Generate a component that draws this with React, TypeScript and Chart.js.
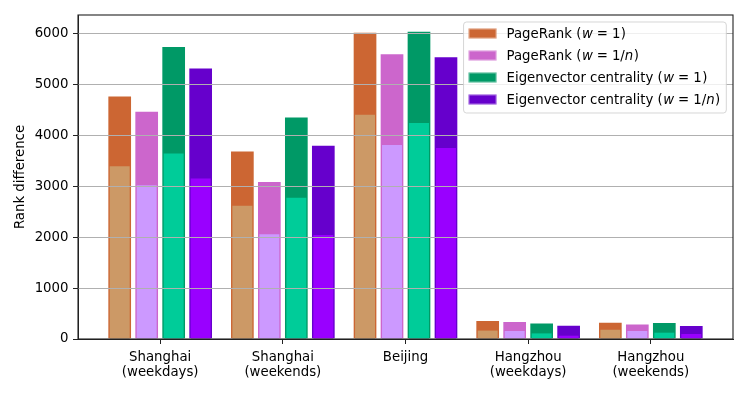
import React, { useEffect, useRef } from 'react';
import { Chart, registerables } from 'chart.js';

Chart.register(...registerables);

// ---- data ----
const categories: string[][] = [
  ['Shanghai', '(weekdays)'],
  ['Shanghai', '(weekends)'],
  ['Beijing'],
  ['Hangzhou', '(weekdays)'],
  ['Hangzhou', '(weekends)'],
];
const seriesLabels = [
  'PageRank ($w=1$)',
  'PageRank ($w=1/n$)',
  'Eigenvector centrality ($w=1$)',
  'Eigenvector centrality ($w=1/n$)',
];
// full bars (darker)
const pagerankW1 = [4780, 3700, 6030, 372, 339];
const pagerankW1n = [4480, 3100, 5610, 355, 306];
const eigenW1 = [5750, 4370, 6050, 325, 333];
const eigenW1n = [5330, 3815, 5550, 280, 274];
// inner bars (lighter)
const pagerankW1Inner = [3390, 2615, 4400, 165, 182];
const pagerankW1nInner = [3020, 2055, 3810, 157, 157];
const eigenW1Inner = [3640, 2775, 4240, 110, 124];
const eigenW1nInner = [3150, 2040, 3750, 65, 98];
const yTicks = [0, 1000, 2000, 3000, 4000, 5000, 6000];

const outerColors = ['#CC6633', '#CC66CC', '#009966', '#6600CC'];
const innerColors = ['#CC9966', '#CC99FF', '#00CC99', '#9900FF'];

const FONT = '"DejaVu Sans", "Liberation Sans", sans-serif';
const FS = 13.3;
const TEXT = '#000';

function drawMathLabel(ctx: CanvasRenderingContext2D, text: string, x: number, y: number, measureOnly = false): number {
  const parts = text.split('$');
  let cx = x;
  parts.forEach((p, idx) => {
    const math = idx % 2 === 1;
    if (!math) {
      ctx.font = `${FS}px ${FONT}`;
      if (!measureOnly) ctx.fillText(p, cx, y);
      cx += ctx.measureText(p).width;
    } else {
      cx += 0.5;
      for (const ch of p) {
        if (ch === '=') {
          ctx.font = `${FS}px ${FONT}`;
          cx += 4;
          if (!measureOnly) ctx.fillText('=', cx, y);
          cx += ctx.measureText('=').width + 4;
        } else if (/[a-z]/i.test(ch)) {
          ctx.font = `italic ${FS}px ${FONT}`;
          if (!measureOnly) ctx.fillText(ch, cx, y);
          cx += ctx.measureText(ch).width;
        } else {
          ctx.font = `${FS}px ${FONT}`;
          if (!measureOnly) ctx.fillText(ch, cx, y);
          cx += ctx.measureText(ch).width;
        }
      }
      cx += 0.5;
    }
  });
  return cx - x;
}

const overlayPlugin = {
  id: 'overlayPlugin',
  afterDatasetsDraw(chart: any) {
    const { ctx, chartArea: ca, scales } = chart;
    const y = scales.y;
    ctx.save();
    // grid over bars
    ctx.strokeStyle = '#b0b0b0';
    ctx.lineWidth = 1.1;
    yTicks.forEach((v) => {
      if (v === 0) return;
      const py = Math.round(y.getPixelForValue(v)) + 0.5;
      ctx.beginPath();
      ctx.moveTo(ca.left, py);
      ctx.lineTo(ca.right, py);
      ctx.stroke();
    });

    // legend
    let maxW = 0;
    seriesLabels.forEach((l) => {
      maxW = Math.max(maxW, drawMathLabel(ctx, l, 0, 0, true));
    });
    const boxW = 43 + maxW + 6;
    const boxH = 91;
    const bx = ca.right - 6.7 - boxW;
    const by = ca.top + 7;
    ctx.beginPath();
    (ctx as any).roundRect(bx, by, boxW, boxH, 3);
    ctx.fillStyle = 'rgba(255,255,255,0.8)';
    ctx.fill();
    ctx.strokeStyle = 'rgba(204,204,204,0.8)';
    ctx.lineWidth = 1;
    ctx.stroke();
    seriesLabels.forEach((l, i) => {
      const cy = by + 11.5 + i * 22;
      ctx.fillStyle = outerColors[i];
      ctx.fillRect(bx + 5, cy - 5, 28, 10);
      ctx.strokeStyle = 'rgba(255,255,255,0.45)';
      ctx.lineWidth = 1;
      ctx.strokeRect(bx + 5.5, cy - 4.5, 27, 9);
      ctx.fillStyle = TEXT;
      ctx.textBaseline = 'middle';
      ctx.textAlign = 'left';
      drawMathLabel(ctx, l, bx + 43, cy + 1);
    });

    // axes frame
    ctx.strokeStyle = '#222';
    ctx.lineWidth = 1.1;
    ctx.strokeRect(ca.left, ca.top, ca.right - ca.left, ca.bottom - ca.top);
    ctx.restore();
  },
};

export default function App() {
  const canvasRef = useRef<HTMLCanvasElement | null>(null);

  useEffect(() => {
    if (!canvasRef.current) return;
    const outer = [pagerankW1, pagerankW1n, eigenW1, eigenW1n];
    const inner = [pagerankW1Inner, pagerankW1nInner, eigenW1Inner, eigenW1nInner];
    const datasets: any[] = [];
    outer.forEach((arr, i) => {
      datasets.push({
        label: seriesLabels[i],
        data: arr.map((v, k) => ({ x: k, y: v })),
        stack: 'g' + i,
        backgroundColor: outerColors[i],
        borderColor: 'rgba(255,255,255,0.45)',
        borderWidth: 1,
        barPercentage: 0.915,
        categoryPercentage: 0.88,
        order: 1,
      });
    });
    inner.forEach((arr, i) => {
      datasets.push({
        label: seriesLabels[i] + ' inner',
        data: arr.map((v, k) => ({ x: k, y: v })),
        stack: 'g' + i,
        backgroundColor: innerColors[i],
        borderWidth: 0,
        barPercentage: 0.74,
        categoryPercentage: 0.88,
        order: 0,
      });
    });

    const chart = new Chart(canvasRef.current, {
      type: 'bar',
      data: { datasets },
      options: {
        animation: false,
        responsive: false,
        devicePixelRatio: 1,
        layout: { padding: { top: 15, right: 15, left: 0, bottom: 0 } },
        plugins: { legend: { display: false }, tooltip: { enabled: false } },
        scales: {
          x: {
            type: 'linear',
            min: -0.67,
            max: 4.67,
            offset: false,
            afterBuildTicks: (s: any) => {
              s.ticks = categories.map((_, i) => ({ value: i }));
            },
            afterFit: (s: any) => {
              s.height = 55;
            },
            grid: {
              display: true,
              drawOnChartArea: false,
              drawTicks: true,
              tickLength: 5,
              tickColor: '#222',
              color: 'rgba(0,0,0,0)',
              offset: false,
            },
            border: { display: true, color: '#222', width: 1 },
            ticks: {
              autoSkip: false,
              maxRotation: 0,
              padding: 6,
              color: TEXT,
              font: { family: FONT, size: FS, lineHeight: 1.15 },
              callback: (v: any) => categories[Math.round(Number(v))] as any,
            },
          },
          y: {
            type: 'linear',
            stacked: false,
            min: 0,
            max: 6360,
            afterBuildTicks: (s: any) => {
              s.ticks = yTicks.map((v) => ({ value: v }));
            },
            afterFit: (s: any) => {
              s.width = 78;
            },
            grid: {
              display: true,
              drawOnChartArea: false,
              drawTicks: true,
              tickLength: 5,
              tickColor: '#222',
              color: 'rgba(0,0,0,0)',
            },
            border: { display: true, color: '#222', width: 1 },
            ticks: {
              padding: 4.5,
              color: TEXT,
              font: { family: FONT, size: FS },
              callback: (v: any) => String(v),
            },
            title: {
              display: true,
              text: 'Rank difference',
              color: TEXT,
              font: { family: FONT, size: FS },
              padding: { top: 13, bottom: 0 },
            },
          },
        },
      },
      plugins: [overlayPlugin],
    });
    return () => chart.destroy();
  }, []);

  return (
    <div style={{ position: 'fixed', left: 0, top: 0, width: 748, height: 394, background: '#fff' }}>
      <canvas ref={canvasRef} width={748} height={394} style={{ display: 'block' }} />
    </div>
  );
}
